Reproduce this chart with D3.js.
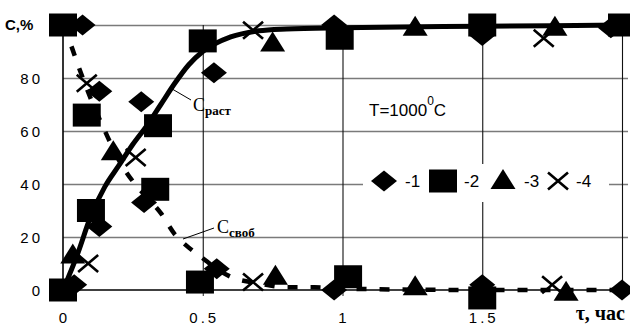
<!DOCTYPE html>
<html>
<head>
<meta charset="utf-8">
<script src="https://cdn.jsdelivr.net/npm/d3@7"></script>
<style>
  html, body { margin: 0; padding: 0; background: #fff; }
  svg { display: block; }
</style>
</head>
<body>
<svg id="chart" width="630" height="324"></svg>
<script>
// Dissolution kinetics at T = 1000 °C: time in hours, content in %
const xTicks = [0, 0.5, 1, 1.5];
const xTickLabels = ["0", "0.5", "1", "1.5"];
const yTicks = [0, 20, 40, 60, 80];
const yTickLabels = ["0", "20", "40", "60", "80"];
const yTopLabel = "C,%";
const xAxisTitle = "τ, час";

// Smoothed curves: dissolved (раст) and free (своб) fraction
const curveRastT = [0, 0.05, 0.1, 0.15, 0.2, 0.25, 0.3, 0.35, 0.4, 0.45, 0.5, 0.6, 0.7, 0.8, 1.0, 1.5, 2.0];
const curveRastC = [0, 13, 28, 39, 47, 55, 62, 70, 78, 85, 90, 95.5, 97.8, 98.5, 99, 99.5, 100];
const curveSvobT = [0, 0.03, 0.05, 0.1, 0.15, 0.2, 0.25, 0.3, 0.35, 0.4, 0.45, 0.5, 0.55, 0.6, 0.7, 0.8, 0.9, 1.0, 1.5, 2.0];
const curveSvobC = [100, 92, 86, 72, 60, 49, 41, 35, 29, 21, 16, 12, 8, 5, 2.5, 1, 1, 0.5, 0, 0];

// Experimental points, series 1–4
const s1T = [0.07, 0.04, 0.13, 0.13, 0.28, 0.29, 0.54, 0.55, 0.97, 0.97, 1.5, 1.5, 1.96, 2.0];
const s1C = [100, 2, 75, 24, 71, 33, 82, 8, 100, 0, 96, 2, 99, 0];
const s2T = [0, 0, 0.085, 0.1, 0.34, 0.33, 0.5, 0.49, 0.99, 1.02, 1.5, 1.5, 2.0];
const s2C = [100, 0, 66, 30, 62, 38, 94, 3, 95, 5, 100, -3, 100];
const s3T = [0.035, 0.18, 0.75, 0.76, 1.26, 1.26, 1.76, 1.8];
const s3C = [13, 52, 93, 5, 99, 1, 99, -1];
const s4T = [0.085, 0.09, 0.26, 0.68, 0.68, 1.72, 1.75];
const s4C = [78, 10, 50, 98, 3, 95, 2];

const seriesNames = ["-1", "-2", "-3", "-4"];
const seriesShapes = ["diamond", "square", "triangle", "cross"];

const svg = d3.select("#chart");
const x = d3.scaleLinear().domain([0, 2]).range([63, 622]);
const y = d3.scaleLinear().domain([0, 100]).range([290, 25]);

// Horizontal grid (grey) incl. the 100 line, with outward ticks
svg.append("g")
  .attr("transform", `translate(${x(0)},0)`)
  .call(d3.axisLeft(y).tickValues([20, 40, 60, 80, 100])
    .tickSize(-(x(2) - x(0)) - 6).tickSizeOuter(0).tickFormat(""))
  .call(g => g.select(".domain").remove())
  .call(g => g.selectAll(".tick line")
    .attr("x1", 6).attr("x2", -(x(2) - x(0)))
    .attr("transform", `translate(${x(2) - x(0)},0)`)
    .attr("stroke", "#7a7a7a").attr("stroke-width", 1.6));

// Vertical grid (dark) at 0.5 … 2
svg.append("g")
  .attr("transform", `translate(0,${y(0)})`)
  .call(d3.axisBottom(x).tickValues([0.5, 1, 1.5, 2])
    .tickSize(-(y(0) - y(100))).tickSizeOuter(0).tickFormat(""))
  .call(g => g.select(".domain").remove())
  .call(g => g.selectAll(".tick line").attr("stroke", "#111").attr("stroke-width", 1.1));

// Small x ticks below the axis
svg.append("g")
  .attr("transform", `translate(0,${y(0)})`)
  .call(d3.axisBottom(x).tickValues([0.5, 1, 1.5]).tickSize(6).tickSizeOuter(0).tickFormat(""))
  .call(g => g.select(".domain").remove())
  .call(g => g.selectAll(".tick line").attr("stroke", "#222").attr("stroke-width", 1));

// Axis lines
svg.append("line").attr("x1", x(0)).attr("x2", x(2)).attr("y1", y(0)).attr("y2", y(0))
  .attr("stroke", "#000").attr("stroke-width", 1.6);
svg.append("line").attr("x1", x(0)).attr("x2", x(0)).attr("y1", y(0)).attr("y2", y(100))
  .attr("stroke", "#000").attr("stroke-width", 1.6);

// Tick labels
svg.append("g").selectAll("text").data(yTicks).join("text")
  .attr("x", 43).attr("y", d => y(d) + 6)
  .attr("text-anchor", "end")
  .attr("font-family", "Liberation Sans, Arial, sans-serif")
  .attr("font-size", 15).attr("letter-spacing", 3)
  .text((d, i) => yTickLabels[i]);
svg.append("text").attr("x", 5).attr("y", y(100) + 5)
  .attr("font-family", "Liberation Sans, Arial, sans-serif")
  .attr("font-size", 15).attr("font-weight", "bold")
  .text(yTopLabel);
svg.append("g").selectAll("text").data(xTicks).join("text")
  .attr("x", d => x(d) + 1.5).attr("y", 322.5)
  .attr("text-anchor", "middle")
  .attr("font-family", "Liberation Sans, Arial, sans-serif")
  .attr("font-size", 15).attr("letter-spacing", 3)
  .text((d, i) => xTickLabels[i]);
svg.append("text").attr("x", 625).attr("y", 320).attr("text-anchor", "end")
  .attr("font-family", "Liberation Serif, Times New Roman, serif")
  .attr("font-size", 20).attr("font-weight", "bold")
  .text(xAxisTitle);

// Curves
const lineGen = d3.line().x(d => x(d[0])).y(d => y(d[1])).curve(d3.curveMonotoneX);
svg.append("path")
  .attr("d", lineGen(d3.zip(curveSvobT, curveSvobC)))
  .attr("fill", "none").attr("stroke", "#000").attr("stroke-width", 4.5)
  .attr("stroke-dasharray", "10,13");
svg.append("path")
  .attr("d", lineGen(d3.zip(curveRastT, curveRastC)))
  .attr("fill", "none").attr("stroke", "#000").attr("stroke-width", 5);

// Marker shapes (slightly wider than tall)
function shapePath(kind) {
  switch (kind) {
    case "diamond": return "M-13,0L0,-10.5L13,0L0,10.5Z";
    case "square": return "M-14,-11.5H14V11.5H-14Z";
    case "triangle": return "M0,-12L12.5,8L-12.5,8Z";
    case "cross": return "M-10,-8.5L10,8.5M-10,8.5L10,-8.5";
  }
}
function drawMarker(sel, kind) {
  sel.append("path").attr("d", shapePath(kind))
    .attr("fill", kind === "cross" ? "none" : "#000")
    .attr("stroke", "#000")
    .attr("stroke-width", kind === "cross" ? 2.6 : 0);
}

const seriesData = [[s1T, s1C], [s2T, s2C], [s3T, s3C], [s4T, s4C]];
seriesData.forEach(([ts, cs], i) => {
  const g = svg.append("g");
  d3.zip(ts, cs).forEach(([t, c]) => {
    const m = g.append("g").attr("transform", `translate(${x(t)},${y(c)})`);
    drawMarker(m, seriesShapes[i]);
  });
});

// Curve labels with leader lines
svg.append("line").attr("x1", x(0.38)).attr("y1", y(76.5)).attr("x2", 191).attr("y2", 100)
  .attr("stroke", "#000").attr("stroke-width", 1);
const rast = svg.append("text").attr("x", 193).attr("y", 111)
  .attr("font-family", "Liberation Serif, Times New Roman, serif").attr("font-size", 18);
rast.append("tspan").text("C");
rast.append("tspan").attr("dy", 4).attr("font-size", 13).attr("font-weight", "bold").text("раст");

svg.append("line").attr("x1", 183).attr("y1", 239).attr("x2", 214).attr("y2", 228)
  .attr("stroke", "#000").attr("stroke-width", 1);
const svob = svg.append("text").attr("x", 217).attr("y", 233)
  .attr("font-family", "Liberation Serif, Times New Roman, serif").attr("font-size", 18);
svob.append("tspan").text("C");
svob.append("tspan").attr("dy", 4).attr("font-size", 13).attr("font-weight", "bold").text("своб");

// Temperature note
const tNote = svg.append("text").attr("x", 369).attr("y", 116)
  .attr("font-family", "Liberation Sans, Arial, sans-serif").attr("font-size", 17);
tNote.append("tspan").text("T=1000");
tNote.append("tspan").attr("dy", -11).attr("font-size", 12).text("0");
tNote.append("tspan").attr("dy", 11).text("C");

// Legend
const legend = svg.append("g");
legend.append("rect").attr("x", 363).attr("y", 164).attr("width", 246).attr("height", 38).attr("fill", "#fff");
const legX = [384, 443, 503, 558];
seriesNames.forEach((name, i) => {
  const m = legend.append("g").attr("transform", `translate(${legX[i]},${181})`);
  drawMarker(m, seriesShapes[i]);
  legend.append("text").attr("x", legX[i] + (i === 3 ? 18 : 21)).attr("y", 187)
    .attr("font-family", "Liberation Sans, Arial, sans-serif").attr("font-size", 17)
    .text(name);
});
</script>
</body>
</html>
